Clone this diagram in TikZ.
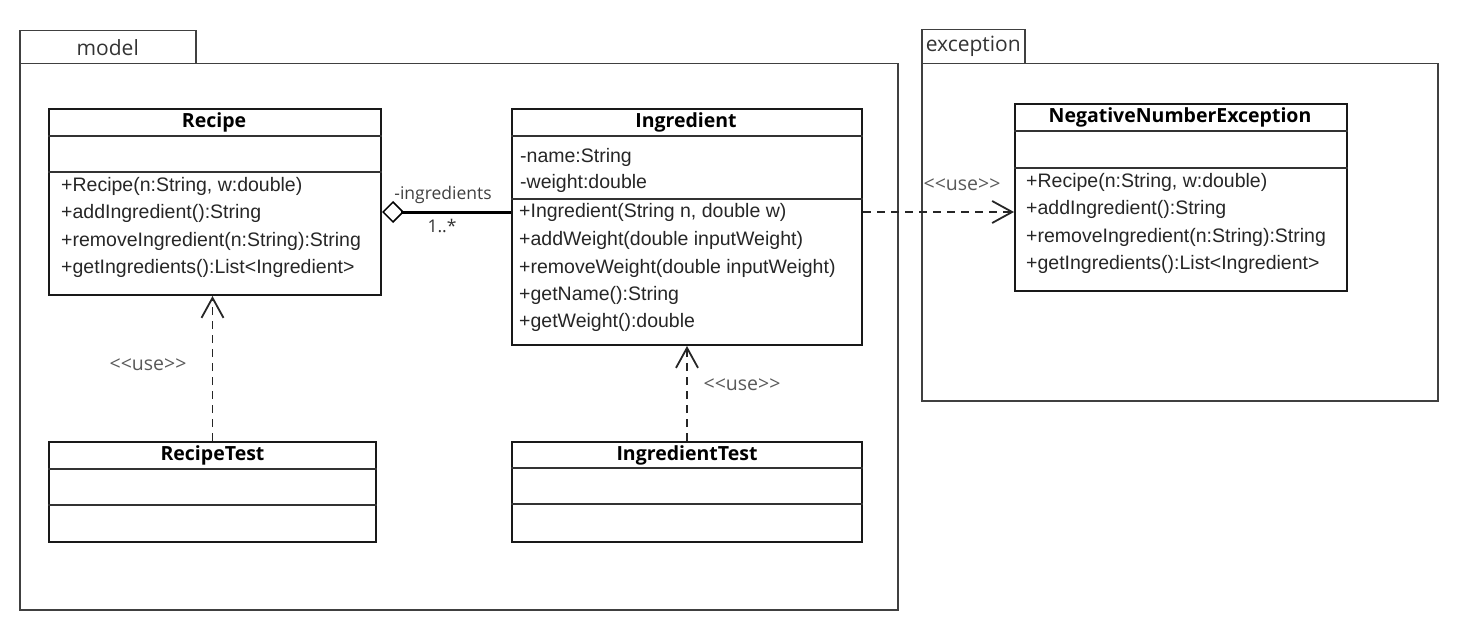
\documentclass[tikz,border=0pt]{standalone}
\usepackage{fontspec}
\setmainfont{Liberation Sans}
\newfontfamily\namefont{Open Sans}
\usetikzlibrary{arrows.meta}

\tikzset{
	pkg/.style = {draw=black!75, line width=1.5pt, anchor=north west, inner sep=0pt},
	pkglbl/.style = {inner sep=0pt, text=black!80, font=\namefont\fontsize{21}{24}\selectfont},
	clsbox/.style = {draw=black!90, line width=2pt, anchor=north west, inner sep=0pt},
	divider/.style = {draw=black!80, line width=1.5pt},
	clsname/.style = {inner sep=0pt, font=\namefont\bfseries\fontsize{19.5}{22}\selectfont},
	member/.style = {anchor=mid west, inner sep=0pt, text=black!85, font=\fontsize{19.5}{22}\selectfont},
	lbl/.style = {inner sep=0pt, text=black!65, font=\namefont\fontsize{17.5}{20}\selectfont},
	use/.style = {draw=black!85, line width=1.8pt, dash pattern=on 8pt off 6pt, -{Straight Barb[length=20pt, width=22pt]}},
	agg/.style = {draw=black, line width=3pt, {Diamond[open, length=22pt, width=22pt, line width=1.5pt]}-}
}

\begin{document}
\begin{tikzpicture}[x=1pt, y=-1pt]
	\useasboundingbox (0,0) rectangle (1463,631);
	% packages
	\node [pkg, minimum width=176pt, minimum height=33pt] (modeltab) at (19,30) {};
	\node [pkg, minimum width=878pt, minimum height=546pt] (model) at (19,63) {};
	\node [pkglbl] at (modeltab) {model};
	\node [pkg, minimum width=103pt, minimum height=34pt] (exctab) at (921,29) {};
	\node [pkg, minimum width=516pt, minimum height=337pt] (exc) at (921,63) {};
	\node [pkglbl] at (exctab) {exception};

	% Recipe
	\node [clsbox, minimum width=332pt, minimum height=186pt] (recipe) at (48,108) {};
	\draw [divider] (recipe.west |- 0,136) -- (recipe.east |- 0,136);
	\draw [divider] (recipe.west |- 0,172) -- (recipe.east |- 0,172);
	\node [clsname] at (214,122) {Recipe};
	\node [member] at (61,189) {+Recipe(n:String, w:double)};
	\node [member] at (61,216) {+addIngredient():String};
	\node [member] at (61,244) {+removeIngredient(n:String):String};
	\node [member] at (61,271) {+getIngredients():List<Ingredient>};

	% Ingredient
	\node [clsbox, minimum width=350pt, minimum height=236pt] (ingredient) at (511,108) {};
	\draw [divider] (ingredient.west |- 0,136) -- (ingredient.east |- 0,136);
	\draw [divider] (ingredient.west |- 0,199) -- (ingredient.east |- 0,199);
	\node [clsname] at (686,122) {Ingredient};
	\node [member] at (520,160) {-name:String};
	\node [member] at (520,186) {-weight:double};
	\node [member] at (519,215) {+Ingredient(String n, double w)};
	\node [member] at (519,243) {+addWeight(double inputWeight)};
	\node [member] at (519,271) {+removeWeight(double inputWeight)};
	\node [member] at (519,298) {+getName():String};
	\node [member] at (519,325) {+getWeight():double};

	% NegativeNumberException
	\node [clsbox, minimum width=332pt, minimum height=187pt] (nne) at (1014,103) {};
	\draw [divider] (nne.west |- 0,131) -- (nne.east |- 0,131);
	\draw [divider] (nne.west |- 0,168) -- (nne.east |- 0,168);
	\node [clsname] at (1180,117) {NegativeNumberException};
	\node [member] at (1026,185) {+Recipe(n:String, w:double)};
	\node [member] at (1026,212) {+addIngredient():String};
	\node [member] at (1026,240) {+removeIngredient(n:String):String};
	\node [member] at (1026,267) {+getIngredients():List<Ingredient>};

	% tests
	\node [clsbox, minimum width=327pt, minimum height=100pt] (rtest) at (48,441) {};
	\draw [divider] (rtest.west |- 0,469) -- (rtest.east |- 0,469);
	\draw [divider] (rtest.west |- 0,505) -- (rtest.east |- 0,505);
	\node [clsname] at (rtest.north |- 0,455) {RecipeTest};
	\node [clsbox, minimum width=350pt, minimum height=100pt] (itest) at (511,441) {};
	\draw [divider] (itest.west |- 0,468) -- (itest.east |- 0,468);
	\draw [divider] (itest.west |- 0,504) -- (itest.east |- 0,504);
	\node [clsname] at (itest.north |- 0,455) {IngredientTest};

	% connectors
	\coordinate (link) at (0,212);
	\draw [agg] (recipe.east |- link) -- (ingredient.west |- link);
	\node [lbl, text=black!75] at (443,195) {-ingredients};
	\node [lbl, text=black!80] at (442,226) {1..*};
	\draw [use] (ingredient.east |- link) -- (nne.west |- link);
	\node [lbl, font=\namefont\fontsize{19.5}{22}\selectfont] at (962,185) {<<use>>};
	\draw [use] (rtest.north) -- (rtest.north |- recipe.south);
	\node [lbl, font=\namefont\fontsize{19.5}{22}\selectfont] at (148,365) {<<use>>};
	\draw [use] (itest.north) -- (itest.north |- ingredient.south);
	\node [lbl, font=\namefont\fontsize{19.5}{22}\selectfont] at (742,385) {<<use>>};
\end{tikzpicture}
\end{document}
